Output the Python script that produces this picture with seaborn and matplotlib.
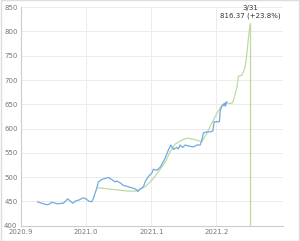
import matplotlib
matplotlib.use("Agg")
import matplotlib.pyplot as plt
import seaborn as sns
import pandas as pd

# Blue series (actual)
blue_t = [2020.925, 2020.9318, 2020.9395, 2020.943, 2020.9472, 2020.9507, 2020.9548, 2020.965,
          2020.9717, 2020.9753, 2020.9794, 2020.984, 2020.9896, 2020.9948, 2020.9983, 2021.0049,
          2021.0086, 2021.0111, 2021.0163, 2021.0187, 2021.024, 2021.029, 2021.0341, 2021.0393,
          2021.0444, 2021.047, 2021.0521, 2021.0571, 2021.0648, 2021.0725, 2021.0762, 2021.0793,
          2021.0828, 2021.0879, 2021.0905, 2021.0955, 2021.1008, 2021.1032, 2021.1084, 2021.1135,
          2021.1186, 2021.1212, 2021.1263, 2021.13, 2021.134, 2021.1392, 2021.1416, 2021.1442,
          2021.1483, 2021.1519, 2021.157, 2021.1647, 2021.1699, 2021.175, 2021.1776, 2021.18,
          2021.1852, 2021.1903, 2021.1945, 2021.1965, 2021.2015, 2021.2046, 2021.2057, 2021.2083,
          2021.2134, 2021.216]
blue_v = [449, 446, 443, 444, 448, 447, 445, 446,
          455, 451, 446, 451, 453, 457, 456, 450,
          449, 456, 477, 490, 495, 497, 499, 495,
          490, 492, 488, 483, 480, 477, 475, 470,
          475, 480, 490, 501, 508, 516, 514, 520,
          532, 539, 556, 566, 557, 561, 558, 566,
          561, 566, 564, 562, 566, 566, 576, 591,
          593, 593, 595, 614, 614, 614, 637, 646,
          650, 655]

# Green series (projection)
green_t = [2021.0178, 2021.0444, 2021.0648, 2021.0751, 2021.0905, 2021.0982, 2021.1032, 2021.1135,
           2021.1212, 2021.1289, 2021.1366, 2021.1469, 2021.155, 2021.1647, 2021.1723, 2021.1776,
           2021.1852, 2021.1929, 2021.2006, 2021.2083, 2021.2134, 2021.2184, 2021.2236, 2021.2261,
           2021.2313, 2021.2339, 2021.2390, 2021.2416, 2021.2441, 2021.2468, 2021.2493, 2021.2518]
green_v = [478, 474, 471, 471, 480, 490, 497, 516,
           530, 552, 568, 576, 580, 578, 575, 573,
           590, 611, 631, 648, 653, 652, 652, 658,
           684, 708, 710, 718, 727, 755, 789, 816.37]

peak_label = "3/31\n816.37 (+23.8%)"
y_ticks = [400, 450, 500, 550, 600, 650, 700, 750, 800, 850]
x_ticks = [2020.9, 2021.0, 2021.1, 2021.2]
x_labels = ["2020.9", "2021.0", "2021.1", "2021.2"]

sns.set_style("whitegrid")
plt.rcParams['font.family'] = ['DejaVu Sans']

fig = plt.figure(figsize=(3.0, 2.41), dpi=100)
ax = fig.add_axes([0.07, 0.064, 0.873, 0.906])

blue_c = "#72a9e0"
green_c = "#bcdba2"

gdf = pd.DataFrame({"t": green_t, "v": green_v})
bdf = pd.DataFrame({"t": blue_t, "v": blue_v})
sns.lineplot(data=gdf, x="t", y="v", ax=ax, color=green_c, lw=0.9, sort=False)
sns.lineplot(data=bdf, x="t", y="v", ax=ax, color=blue_c, lw=0.9, sort=False)

# vertical drop at peak
ax.vlines(green_t[-1], y_ticks[0], green_v[-1], color=green_c, lw=0.9)

# arrow at end of blue line
ax.annotate("", xy=(blue_t[-1], blue_v[-1]), xytext=(blue_t[-2], blue_v[-2]),
            arrowprops=dict(arrowstyle="-|>", color=blue_c, lw=0.9, mutation_scale=5))

ax.text(green_t[-1], green_v[-1] + 9, peak_label, ha="center", va="bottom",
        fontsize=5, color="#333333", linespacing=1.35)

ax.set_xlim(2020.9, 2021.302)
ax.set_ylim(400, 850)
ax.set_yticks(y_ticks)
ax.set_xticks(x_ticks)
ax.set_xticklabels(x_labels)
ax.set_xlabel("")
ax.set_ylabel("")
ax.tick_params(axis="both", labelsize=5, colors="#777777", length=0, pad=2.5)
ax.grid(True, color="#ececec", lw=0.7)
for s in ["top", "right"]:
    ax.spines[s].set_visible(False)
for s in ["left", "bottom"]:
    ax.spines[s].set_visible(True)
    ax.spines[s].set_color("#cccccc")
    ax.spines[s].set_linewidth(0.8)

# outer border
fig.patches.append(plt.Rectangle((0.002, 0.002), 0.996, 0.996, transform=fig.transFigure,
                                 fill=False, edgecolor="#dddddd", lw=1))

fig.savefig("out.png", dpi=100)
